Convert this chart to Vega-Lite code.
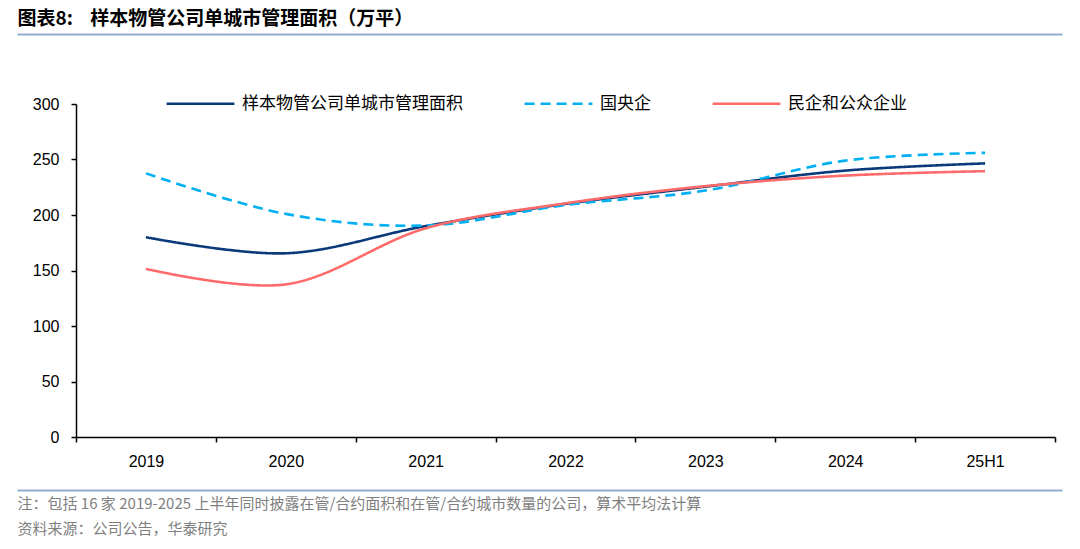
{
  "$schema": "https://vega.github.io/schema/vega-lite/v6.json",
  "width": 979,
  "height": 333,
  "autosize": {"type": "none"},
  "padding": {"left": 76, "top": 104, "right": 25, "bottom": 112},
  "background": "white",
  "config": {"view": {"stroke": null}},
  "data": {"values": [
    {"year": "2019", "series": "样本物管公司单城市管理面积", "v": 180},
    {"year": "2020", "series": "样本物管公司单城市管理面积", "v": 165.5},
    {"year": "2021", "series": "样本物管公司单城市管理面积", "v": 190},
    {"year": "2022", "series": "样本物管公司单城市管理面积", "v": 210},
    {"year": "2023", "series": "样本物管公司单城市管理面积", "v": 225.5},
    {"year": "2024", "series": "样本物管公司单城市管理面积", "v": 240},
    {"year": "25H1", "series": "样本物管公司单城市管理面积", "v": 246.5},
    {"year": "2019", "series": "国央企", "v": 237.5},
    {"year": "2020", "series": "国央企", "v": 201},
    {"year": "2021", "series": "国央企", "v": 190.5},
    {"year": "2022", "series": "国央企", "v": 209},
    {"year": "2023", "series": "国央企", "v": 222},
    {"year": "2024", "series": "国央企", "v": 249},
    {"year": "25H1", "series": "国央企", "v": 256},
    {"year": "2019", "series": "民企和公众企业", "v": 151.5},
    {"year": "2020", "series": "民企和公众企业", "v": 137.5},
    {"year": "2021", "series": "民企和公众企业", "v": 188},
    {"year": "2022", "series": "民企和公众企业", "v": 210.5},
    {"year": "2023", "series": "民企和公众企业", "v": 226},
    {"year": "2024", "series": "民企和公众企业", "v": 235.5},
    {"year": "25H1", "series": "民企和公众企业", "v": 239.5}
  ]},
  "layer": [
    {
      "mark": {"type": "line", "interpolate": "catmull-rom", "strokeWidth": 2.6},
      "encoding": {
        "x": {
          "field": "year", "type": "ordinal",
          "scale": {"type": "band", "paddingInner": 0, "paddingOuter": 0},
          "axis": {
            "orient": "bottom", "title": null, "labelAngle": 0,
            "tickBand": "extent", "tickSize": 5, "tickColor": "#000", "tickWidth": 1.5,
            "domainColor": "#000", "domainWidth": 1.5,
            "labelFont": "Liberation Sans", "labelFontSize": 16, "labelColor": "#000",
            "labelPadding": 11, "grid": false
          }
        },
        "y": {
          "field": "v", "type": "quantitative",
          "scale": {"domain": [0, 300], "nice": false},
          "axis": {
            "title": null, "values": [0, 50, 100, 150, 200, 250, 300],
            "tickSize": 5, "tickColor": "#000", "tickWidth": 1.5,
            "domainColor": "#000", "domainWidth": 1.5,
            "labelFont": "Liberation Sans", "labelFontSize": 16, "labelColor": "#000",
            "labelPadding": 12, "grid": false
          }
        },
        "color": {
          "field": "series", "type": "nominal",
          "scale": {
            "domain": ["样本物管公司单城市管理面积", "国央企", "民企和公众企业"],
            "range": ["#0B3A7A", "#00B0F0", "#FF6B6B"]
          },
          "legend": {
            "title": null, "orient": "none", "direction": "horizontal", "columns": 3,
            "legendX": 89, "legendY": -36,
            "symbolType": "stroke", "symbolSize": 4600, "symbolStrokeWidth": 2.6,
            "labelFont": "Noto Sans CJK SC", "labelFontSize": 17, "labelColor": "#000",
            "labelLimit": 500, "labelOffset": 6, "columnPadding": 56
          }
        },
        "strokeDash": {
          "field": "series", "type": "nominal",
          "scale": {
            "domain": ["样本物管公司单城市管理面积", "国央企", "民企和公众企业"],
            "range": [[1, 0], [10, 6], [1, 0]]
          },
          "legend": {
            "title": null, "orient": "none", "direction": "horizontal", "columns": 3,
            "legendX": 89, "legendY": -36,
            "symbolType": "stroke", "symbolSize": 4600, "symbolStrokeWidth": 2.6,
            "labelFont": "Noto Sans CJK SC", "labelFontSize": 17, "labelColor": "#000",
            "labelLimit": 500, "labelOffset": 6, "columnPadding": 56
          }
        }
      }
    },
    {
      "mark": {"type": "point", "opacity": 0},
      "encoding": {
        "x": {
          "datum": 0, "type": "quantitative",
          "scale": {"domain": [0, 1], "range": [-59, 986]},
          "axis": {
            "orient": "bottom", "offset": 53, "ticks": false, "labels": false, "grid": false,
            "domainColor": "#93ACCB", "domainWidth": 2,
            "title": ["注：包括 16 家 2019-2025 上半年同时披露在管/合约面积和在管/合约城市数量的公司，算术平均法计算", "资料来源：公司公告，华泰研究"],
            "titleAnchor": "start", "titleAlign": "left", "titleBaseline": "top",
            "titleX": -59, "titleY": 6, "titleLineHeight": 25,
            "titleFont": "Noto Sans CJK SC", "titleFontSize": 15, "titleFontWeight": "normal",
            "titleColor": "#7F7F7F"
          }
        }
      }
    },
    {
      "mark": {"type": "point", "opacity": 0},
      "encoding": {
        "x": {
          "datum": 0, "type": "quantitative",
          "scale": {"domain": [0, 1], "range": [-59, 986]},
          "axis": {
            "orient": "top", "offset": 70, "ticks": false, "labels": false, "grid": false,
            "domainColor": "#93ACCB", "domainWidth": 2,
            "title": "图表8:\u00a0\u00a0\u00a0\u00a0样本物管公司单城市管理面积（万平）",
            "titleAnchor": "start", "titleAlign": "left", "titleBaseline": "middle",
            "titleX": -59, "titleY": -16,
            "titleFont": "Noto Sans CJK SC", "titleFontSize": 19, "titleFontWeight": "bold",
            "titleColor": "#000"
          }
        }
      }
    }
  ],
  "resolve": {"scale": {"x": "independent"}, "axis": {"x": "independent"}}
}
